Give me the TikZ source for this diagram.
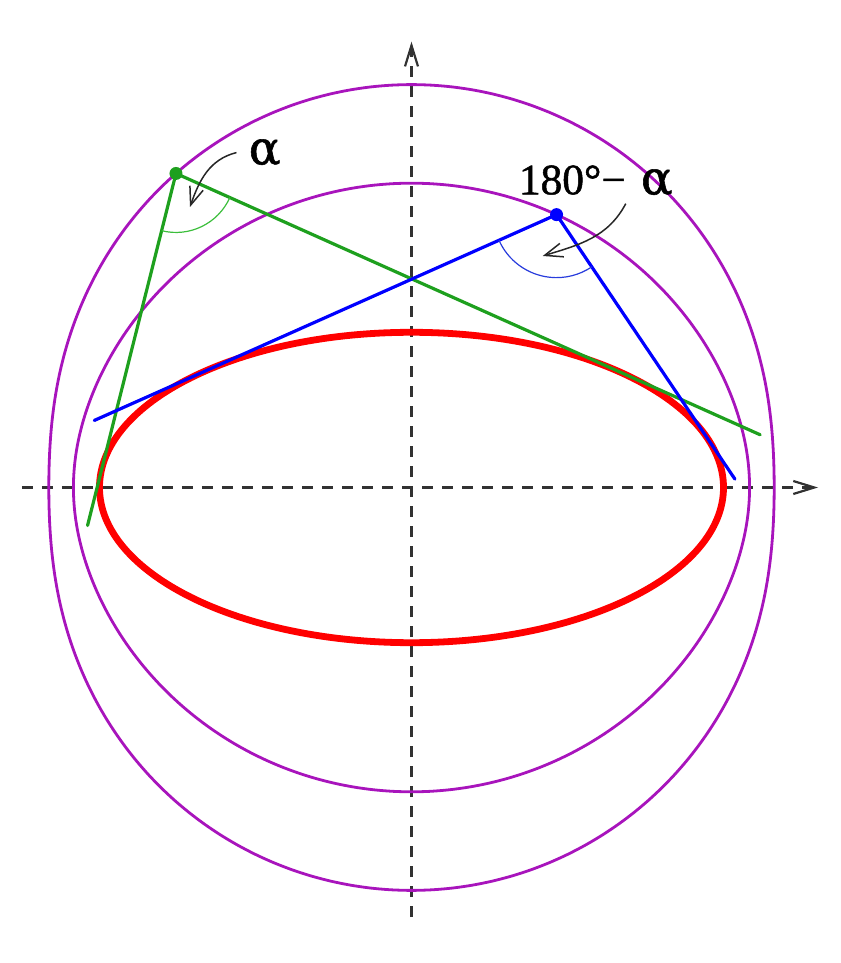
\documentclass[tikz,border=0pt]{standalone}
\usepackage{fontspec}
\setmainfont{Liberation Serif}
\newfontfamily\notefont{Liberation Serif}[FakeBold=1.2]
\newfontfamily\greekfont{DejaVu Serif}[FakeBold=1.2, Scale=1.08]
\usetikzlibrary{calc,arrows.meta}
\tikzset{
  axis-line/.style={
    draw=axisgray,
    line width=1.1pt,
    dash pattern=on 5.5pt off 4.5pt,
    -{Straight Barb[length=10.5pt,width=6.5pt]}
  },
  iso-curve/.style={draw=isopurple, line width=1.4pt},
  conic/.style={draw=red, line width=3.4pt},
  tangent-green/.style={draw=tangreen, line width=1.6pt, line cap=round},
  tangent-blue/.style={draw=blue, line width=1.6pt, line cap=round},
  arc-green/.style={draw=arcgreen, line width=0.6pt},
  arc-blue/.style={draw=arcblue, line width=0.6pt},
  node-dot/.style={circle, minimum size=6.5pt, inner sep=0pt},
  note/.style={font=\notefont\fontsize{21.7}{26}\selectfont, inner sep=0pt},
  note-arrow/.style={draw=black!85, line width=0.75pt, -{Straight Barb[length=9pt,width=7pt]}}
}
\definecolor{isopurple}{RGB}{168,20,188}
\definecolor{tangreen}{RGB}{30,160,30}
\definecolor{arcgreen}{RGB}{60,190,60}
\definecolor{arcblue}{RGB}{40,60,220}
\definecolor{axisgray}{RGB}{50,50,50}
\newcommand{\alphaglyph}{{\greekfont α}}

\begin{document}
\begin{tikzpicture}[x=50pt, y=50pt,
  declare function={
    supp(\x)=sqrt(9.7344*cos(\x)^2+2.408704*sin(\x)^2);
    isox(\x,\k)=(supp(\x)*sin(\x+\k)-supp(\x+\k)*sin(\x))/sin(\k);
    isoy(\x,\k)=(cos(\x)*supp(\x+\k)-cos(\x+\k)*supp(\x))/sin(\k);
  }]
  \useasboundingbox (-4.115,-4.755) rectangle (4.285,4.875);

  % axes
  \draw[axis-line] (-3.895,0) -- (4.065,0);
  \draw[axis-line] (0,-4.295) -- (0,4.458);

  % isoptic curves: 80 deg (outer) and 100 deg (inner)
  \draw[iso-curve] plot[smooth cycle, domain=0:358, samples=180, variable=\t]
    ({isox(\t,100)},{isoy(\t,100)});
  \draw[iso-curve] plot[smooth cycle, domain=0:358, samples=180, variable=\t]
    ({isox(\t,80)},{isoy(\t,80)});

  % the ellipse
  \draw[conic] (0,0) ellipse[x radius=3.12, y radius=1.552];

  % points on the curves and the ends of the tangents
  \coordinate (G) at ({isox(65.9,100)},{isoy(65.9,100)});
  \coordinate (B) at ({isox(34,80)},{isoy(34,80)});
  \coordinate (G-low) at ($(G)+(255.9:3.63)$);
  \coordinate (G-right) at ($(G)+(-24.1:6.40)$);
  \coordinate (B-left) at ($(B)+(204:5.06)$);
  \coordinate (B-right) at ($(B)+(-56:3.19)$);

  % tangents
  \draw[tangent-green] (G-low) -- (G) -- (G-right);
  \draw[tangent-blue] (B-left) -- (B) -- (B-right);

  % angle marks
  \draw[arc-green] ($(G)+(-104.1:0.59)$) arc[start angle=-104.1, end angle=-24.1, radius=0.59];
  \draw[arc-blue] ($(B)+(-156:0.63)$) arc[start angle=-156, end angle=-56, radius=0.63];

  \node[node-dot, fill=tangreen] (G-dot) at (G) {};
  \node[node-dot, fill=blue] (B-dot) at (B) {};

  % labels
  \node[note, anchor=base] (lbl-alpha) at (-1.468,3.232) {\alphaglyph};
  \node[note, anchor=base west] (lbl-supp) at (1.07,2.932) {180°−\hspace{0.35em}\alphaglyph};
  \coordinate (tip-alpha) at (-2.215,2.805);
  \coordinate (tip-supp) at (1.312,2.315);
  \draw[note-arrow] ([xshift=-6pt]lbl-alpha.west) to[out=194, in=71] (tip-alpha);
  \draw[note-arrow] ([shift={(15pt,-3.7pt)}]lbl-supp.south) to[out=242, in=17] (tip-supp);
\end{tikzpicture}
\end{document}
